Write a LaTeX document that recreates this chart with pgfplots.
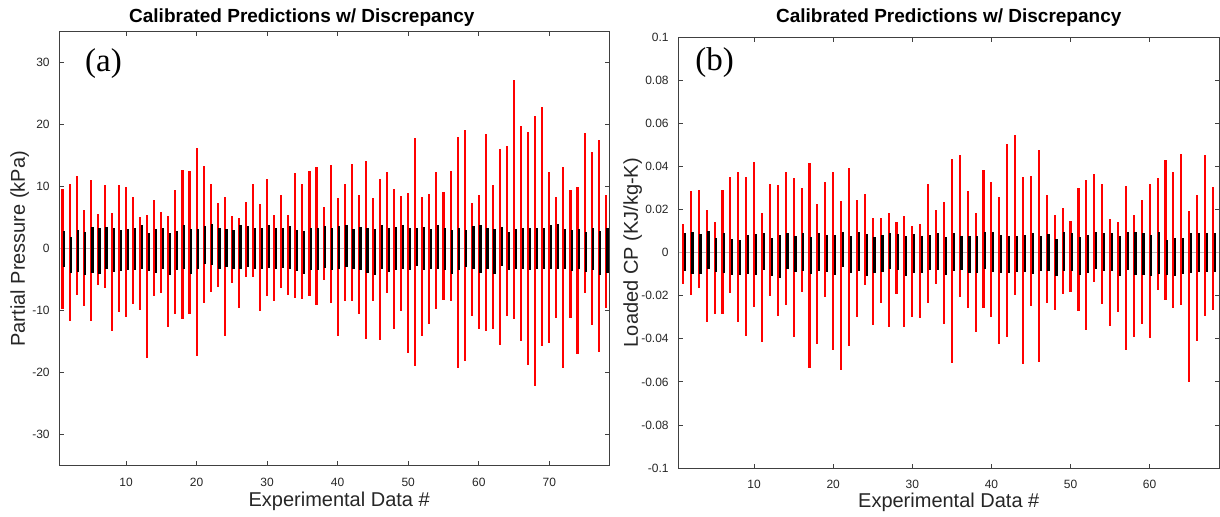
\documentclass[border=0pt]{standalone}
\usepackage{fontspec}
\setmainfont{Liberation Sans}
\newfontfamily\serif{Liberation Serif}
\usepackage{pgfplots}
\usepackage{pgfplotstable}
\pgfplotsset{compat=1.18}

% x, red +/-, black +/- (minus columns are magnitudes)
\pgfplotstableread{
x rp rm bp bm
1 9.7 9.7 2.8 3.0
2 10.5 11.6 1.9 3.9
3 11.8 7.5 3.0 3.8
4 6.3 9.2 2.7 4.2
5 11.1 11.7 3.5 3.9
6 5.6 5.8 3.3 4.1
7 10.3 6.4 3.5 3.3
8 5.7 13.2 3.3 3.8
9 10.2 10.2 3.0 3.6
10 10.0 11.0 3.1 3.5
11 8.3 8.9 3.4 3.4
12 5.1 9.9 3.8 3.3
13 5.4 17.6 2.5 3.6
14 7.9 7.7 3.1 3.9
15 6.0 7.2 3.4 3.2
16 5.3 12.7 2.5 4.2
17 9.4 10.6 2.8 3.5
18 12.7 11.4 3.8 3.3
19 12.6 10.5 3.2 4.1
20 16.3 17.3 3.2 3.2
21 13.3 8.7 3.7 2.5
22 10.5 7.0 4.0 2.7
23 7.3 6.1 3.3 3.2
24 8.3 14.0 3.1 3.0
25 5.3 5.5 3.0 3.2
26 4.9 9.6 3.8 3.2
27 7.6 4.6 3.6 3.0
28 10.4 4.5 3.4 3.3
29 7.2 10.1 3.4 3.3
30 11.3 7.7 3.8 3.1
31 5.5 8.5 3.3 3.3
32 8.7 6.4 3.3 3.1
33 5.4 7.4 3.7 3.2
34 12.2 7.9 3.0 3.6
35 10.5 8.1 2.9 4.0
36 12.5 7.7 3.3 3.4
37 13.2 9.1 3.3 3.4
38 6.7 5.1 3.6 3.1
39 13.5 8.7 3.4 3.5
40 8.1 14.0 3.7 3.3
41 10.5 8.4 3.9 3.0
42 13.6 8.5 3.1 3.2
43 8.6 10.5 3.5 3.5
44 14.1 14.5 3.3 3.9
45 8.2 8.4 3.1 4.2
46 11.3 14.7 3.9 3.2
47 12.3 7.1 3.4 3.8
48 9.6 13.0 3.5 3.5
49 8.5 10.1 3.9 3.2
50 9.0 16.9 3.3 3.5
51 17.9 18.9 3.4 2.8
52 8.4 14.0 3.5 3.5
53 8.9 12.1 3.1 3.3
54 12.3 9.8 3.9 3.3
55 9.1 8.2 3.3 3.4
56 12.5 8.4 3.0 4.1
57 18.0 19.2 3.3 3.4
58 19.2 18.1 3.0 3.0
59 7.3 10.9 3.7 3.2
60 8.6 13.0 3.9 3.9
61 18.5 13.2 3.4 3.3
62 10.2 13.0 3.1 4.1
63 16.1 15.6 3.5 2.8
64 16.6 10.9 2.7 3.5
65 27.2 11.4 3.2 3.2
66 19.8 14.9 3.3 3.2
67 18.8 18.8 3.3 3.4
68 21.4 22.1 3.4 3.3
69 22.8 15.7 3.4 3.2
70 12.4 15.2 3.8 3.2
71 8.4 11.1 4.0 3.3
72 13.2 19.2 3.2 3.3
73 9.4 11.1 3.0 3.6
74 9.9 17.0 3.2 3.3
75 18.7 7.1 2.7 3.8
76 15.6 12.3 3.3 3.4
77 17.6 16.6 2.9 4.2
78 8.7 9.5 3.3 3.9
}\dataA

\pgfplotstableread{
x rp rm bp bm
1 0.0134 0.0146 0.0093 0.0087
2 0.0284 0.0196 0.0096 0.0101
3 0.0289 0.0162 0.0087 0.0101
4 0.0196 0.0322 0.0101 0.0076
5 0.0143 0.0283 0.0070 0.0092
6 0.0289 0.0283 0.0089 0.0093
7 0.0350 0.0188 0.0065 0.0106
8 0.0375 0.0322 0.0061 0.0106
9 0.0350 0.0389 0.0084 0.0098
10 0.0420 0.0253 0.0085 0.0104
11 0.0186 0.0413 0.0089 0.0082
12 0.0319 0.0200 0.0070 0.0109
13 0.0312 0.0294 0.0084 0.0118
14 0.0373 0.0241 0.0090 0.0078
15 0.0345 0.0392 0.0079 0.0092
16 0.0301 0.0183 0.0093 0.0084
17 0.0416 0.0535 0.0071 0.0098
18 0.0227 0.0426 0.0089 0.0085
19 0.0328 0.0208 0.0084 0.0089
20 0.0375 0.0454 0.0082 0.0104
21 0.0241 0.0545 0.0095 0.0067
22 0.0392 0.0435 0.0076 0.0095
23 0.0246 0.0301 0.0096 0.0085
24 0.0272 0.0151 0.0087 0.0109
25 0.0162 0.0336 0.0071 0.0093
26 0.0159 0.0232 0.0082 0.0092
27 0.0185 0.0347 0.0093 0.0078
28 0.0143 0.0194 0.0087 0.0079
29 0.0168 0.0345 0.0079 0.0110
30 0.0126 0.0301 0.0085 0.0095
31 0.0135 0.0305 0.0079 0.0093
32 0.0320 0.0232 0.0081 0.0082
33 0.0200 0.0146 0.0092 0.0081
34 0.0233 0.0333 0.0075 0.0104
35 0.0434 0.0511 0.0093 0.0087
36 0.0452 0.0208 0.0078 0.0082
37 0.0284 0.0258 0.0078 0.0095
38 0.0182 0.0367 0.0076 0.0095
39 0.0385 0.0255 0.0096 0.0075
40 0.0329 0.0301 0.0096 0.0092
41 0.0260 0.0426 0.0082 0.0096
42 0.0503 0.0393 0.0076 0.0095
43 0.0547 0.0197 0.0079 0.0090
44 0.0353 0.0516 0.0082 0.0089
45 0.0354 0.0250 0.0090 0.0099
46 0.0479 0.0508 0.0079 0.0087
47 0.0267 0.0233 0.0085 0.0087
48 0.0177 0.0266 0.0062 0.0107
49 0.0207 0.0191 0.0096 0.0087
50 0.0149 0.0183 0.0093 0.0087
51 0.0300 0.0270 0.0075 0.0103
52 0.0336 0.0357 0.0082 0.0093
53 0.0364 0.0134 0.0096 0.0075
54 0.0319 0.0239 0.0090 0.0087
55 0.0157 0.0339 0.0089 0.0087
56 0.0141 0.0277 0.0079 0.0107
57 0.0308 0.0452 0.0096 0.0081
58 0.0177 0.0390 0.0098 0.0104
59 0.0244 0.0329 0.0089 0.0104
60 0.0317 0.0398 0.0081 0.0107
61 0.0348 0.0172 0.0095 0.0099
62 0.0430 0.0221 0.0059 0.0104
63 0.0376 0.0258 0.0070 0.0107
64 0.0460 0.0244 0.0068 0.0099
65 0.0194 0.0601 0.0093 0.0096
66 0.0267 0.0409 0.0092 0.0092
67 0.0454 0.0294 0.0092 0.0092
68 0.0305 0.0267 0.0092 0.0092
}\dataB

\pgfplotsset{
  panel/.style={
    scale only axis, anchor=south west,
    axis line style={black!75, line width=0.5pt},
    tick style={black!75, line width=0.4pt},
    major tick length=2.2pt,
    tick align=inside,
    tick label style={font=\fontsize{6}{7}\selectfont, text=black!85},
    /pgf/number format/assume math mode=true,
    xticklabel style={yshift=-2.5pt},
    yticklabel style={xshift=-1.4pt},
    label style={font=\fontsize{10}{12}\selectfont, text=black!85},
    xlabel={Experimental Data \#},
    every axis title shift=0pt,
    title={Calibrated Predictions w/ Discrepancy},
    title style={anchor=base, font=\bfseries\fontsize{9.5}{11}\selectfont},
  },
  redbar/.style={draw=none, mark=none, forget plot,
    error bars/.cd, y dir=both, y explicit, error mark=none,
    error bar style={draw=red, solid, line width=1.05pt}},
  blackbar/.style={draw=none, mark=none, forget plot,
    error bars/.cd, y dir=both, y explicit, error mark=none,
    error bar style={draw=black, solid, line width=1.1pt}},
}

\begin{document}
\begin{tikzpicture}
\useasboundingbox (0,0) rectangle (610pt,258pt);

\begin{axis}[panel,
  at={(29.75pt,25.15pt)}, width=274.75pt, height=217pt,
  xmin=0.57, xmax=78.46, ymin=-35, ymax=35,
  xtick={10,20,...,70}, ytick={-30,-20,...,30},
  ylabel={Partial Pressure (kPa)},
  ylabel style={at={(axis description cs:-0.063,0.5)}, anchor=base},
  xlabel style={at={(axis description cs:0.509,0)}, anchor=base, yshift=-20.6pt},
  title style={at={(axis description cs:0.441,1)}, yshift=4.6pt},
]
\addplot[gray!55, line width=0.3pt, forget plot] coordinates {(0.57,0) (78.46,0)};
\addplot[redbar] table[x=x, y expr=0, y error plus=rp, y error minus=rm] {\dataA};
\addplot[blackbar] table[x expr=\thisrow{x}+0.24, y expr=0, y error plus=bp, y error minus=bm] {\dataA};
\node[anchor=base west, font=\serif\fontsize{16.5}{18}\selectfont] at (rel axis cs:0.034,0.909) {(a)};
\end{axis}

\begin{axis}[panel,
  at={(339.25pt,24pt)}, width=270.25pt, height=215.35pt,
  xmin=0.44, xmax=68.77, ymin=-0.1, ymax=0.1,
  xtick={10,20,...,60}, ytick={-0.1,-0.08,...,0.1},
  scaled y ticks=false,
  yticklabel style={/pgf/number format/fixed, /pgf/number format/precision=2},
  ylabel={Loaded CP (KJ/kg-K)},
  ylabel style={at={(axis description cs:-0.075,0.5)}, anchor=base},
  xlabel style={at={(axis description cs:0.5,0)}, anchor=base, yshift=-19.5pt},
  title style={at={(axis description cs:0.5,1)}, yshift=7.4pt},
]
\addplot[gray!55, line width=0.3pt, forget plot] coordinates {(0.44,0) (68.77,0)};
\addplot[redbar] table[x=x, y expr=0, y error plus=rp, y error minus=rm] {\dataB};
\addplot[blackbar] table[x expr=\thisrow{x}+0.22, y expr=0, y error plus=bp, y error minus=bm] {\dataB};
\node[anchor=base west, font=\serif\fontsize{16.5}{18}\selectfont] at (rel axis cs:0.018,0.924) {(b)};
\end{axis}
\end{tikzpicture}
\end{document}
